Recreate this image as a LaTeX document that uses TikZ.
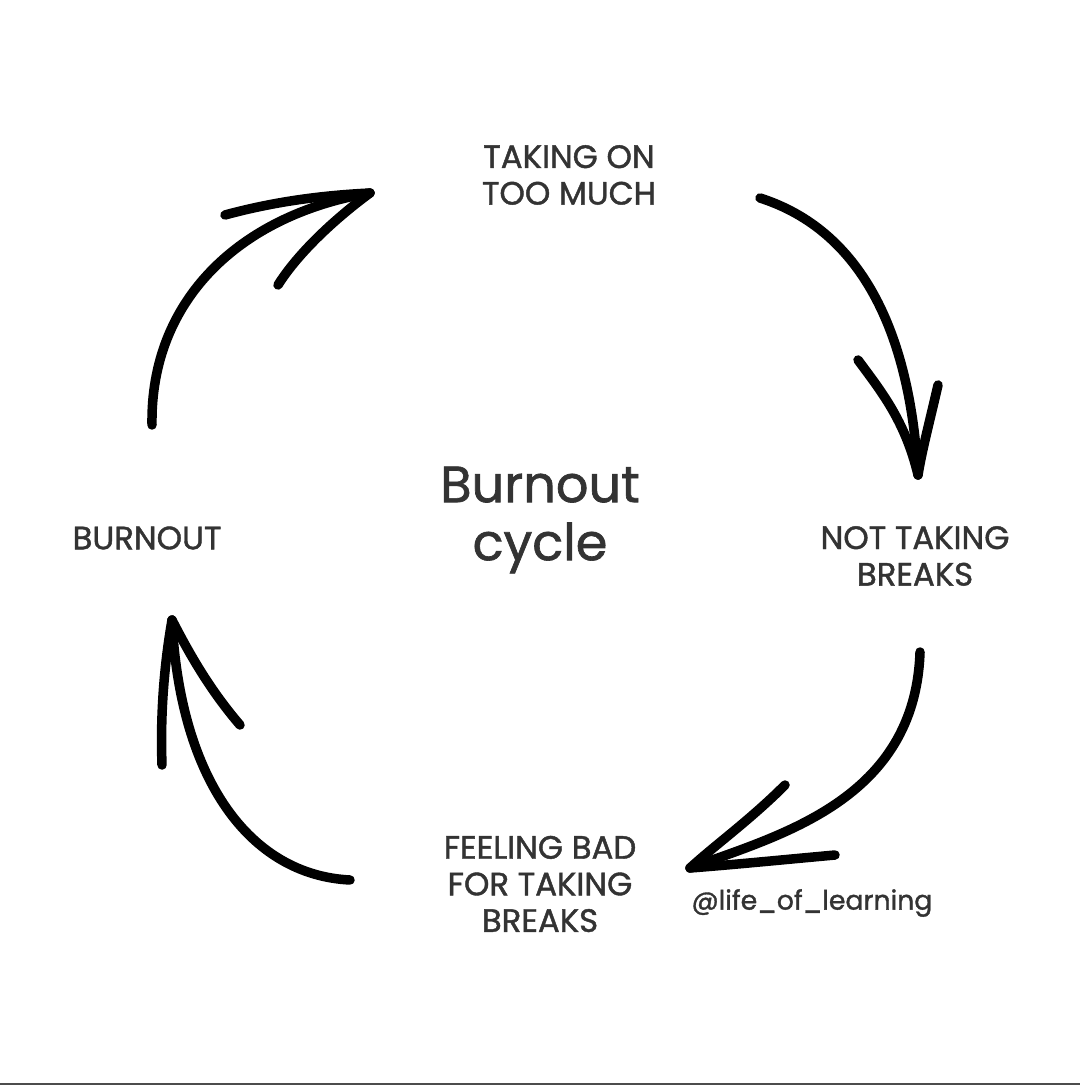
\documentclass[tikz,border=0pt]{standalone}
\usepackage{fontspec}
\setmainfont{Poppins}[RawFeature={embolden=1.3}]
\begin{document}
\begin{tikzpicture}[x=0.01cm,y=-0.01cm,
  stroke/.style={line width=2.7pt,line cap=round,line join=round},
  lbl/.style={align=center,font=\fontsize{9.2}{10.4}\selectfont,text=black!80,inner sep=0pt}]
\useasboundingbox[fill=white] (0,0) rectangle (1080,1089);
\draw[line width=0.8pt,black!70] (0,1084) -- (1080,1084);
% labels
\node[lbl] (t) at (569,175) {TAKING ON\\TOO MUCH};
\node[lbl] (r) at (915,556) {NOT TAKING\\BREAKS};
\node[lbl] (b) at (540,884) {FEELING BAD\\FOR TAKING\\BREAKS};
\node[lbl] (l) at (147,538) {BURNOUT};
\node[align=center,font=\fontsize{14.5}{16.5}\selectfont,text=black!80,inner sep=0pt] (c) at (540,520) {Burnout\\cycle};
\node[font=\fontsize{7.6}{9}\selectfont,text=black!80,inner sep=0pt] (h) at (812,903) {@life\_of\_learning};
% arrow 1
\coordinate (a1) at (152,425); \coordinate (a1e) at (370,193);
\draw[stroke] (a1) .. controls (150,300) and (240,215) .. (a1e);
\draw[stroke] (225,215) .. controls (280,200) and (330,195) .. (a1e);
\draw[stroke] (278,285) .. controls (300,250) and (340,215) .. (a1e);
% arrow 2
\coordinate (a2) at (760,198); \coordinate (a2e) at (918,475);
\draw[stroke] (a2) .. controls (860,230) and (910,330) .. (a2e);
\draw[stroke] (858,360) .. controls (880,390) and (905,420) .. (a2e);
\draw[stroke] (938,385) .. controls (930,420) and (922,450) .. (a2e);
% arrow 3
\coordinate (a3) at (920,652); \coordinate (a3e) at (690,868);
\draw[stroke] (a3) .. controls (915,800) and (780,835) .. (a3e);
\draw[stroke] (785,785) .. controls (750,820) and (715,845) .. (a3e);
\draw[stroke] (835,855) .. controls (780,860) and (730,865) .. (a3e);
% arrow 4
\coordinate (a4) at (350,880); \coordinate (a4e) at (172,620);
\draw[stroke] (a4) .. controls (250,875) and (180,780) .. (a4e);
\draw[stroke] (162,765) .. controls (160,710) and (165,660) .. (a4e);
\draw[stroke] (240,725) .. controls (210,690) and (190,655) .. (a4e);
\end{tikzpicture}
\end{document}
